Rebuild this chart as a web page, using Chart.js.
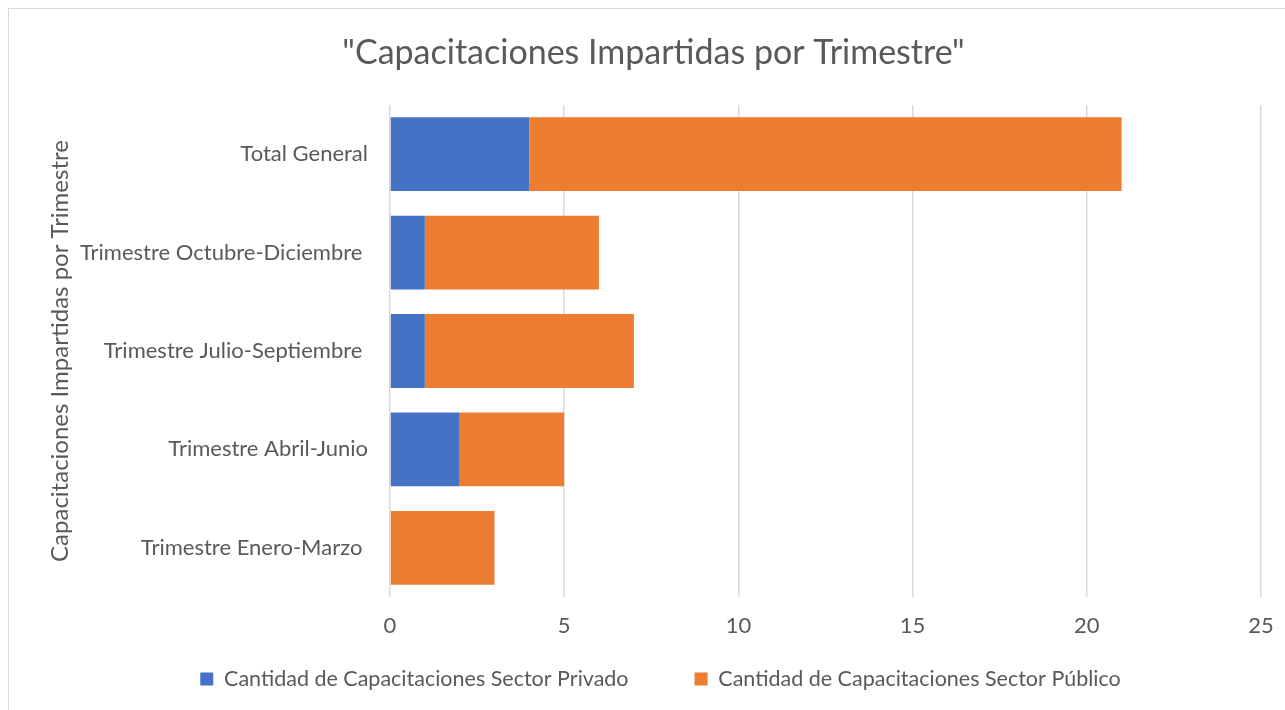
<!DOCTYPE html>
<html>
<head>
<meta charset="utf-8">
<script src="https://cdn.jsdelivr.net/npm/chart.js@4/dist/chart.umd.min.js"></script>
<style>
  html, body { margin: 0; padding: 0; background: #fff; overflow: hidden; }
  .frame {
    position: absolute; left: 8px; top: 8px;
    width: 1300px; height: 720px;
    border: 1px solid #d9d9d9;
  }
  canvas { position: absolute; left: 0; top: 0; }
</style>
</head>
<body>
<div class="frame"></div>
<canvas id="chart" width="1285" height="710"></canvas>
<script>
const categories = [
  "Total General",
  "Trimestre Octubre-Diciembre ",
  "Trimestre Julio-Septiembre ",
  "Trimestre Abril-Junio",
  "Trimestre Enero-Marzo ",
];
const privado = [4, 1, 1, 2, 0];
const publico = [17, 5, 6, 3, 3];
const seriesNames = [
  "Cantidad de Capacitaciones Sector Privado",
  "Cantidad de Capacitaciones Sector Público",
];
const xTicks = [0, 5, 10, 15, 20, 25];

const textColor = "#595959";
const gridColor = "#d9d9d9";
const fontFamily = "Lato, 'Open Sans', sans-serif";
const legendFontSize = 21.5;
const legendGap = 66;
const legendTextY = 679;
const legendShiftX = 7;

// the legend's item gap and its top offset share one padding value,
// so pull the legend box up after layout to keep the wide gap
const liftLegend = {
  id: "liftLegend",
  afterLayout(chart) {
    const lg = chart.legend;
    if (!lg) return;
    const top = legendTextY - legendGap - legendFontSize / 2;
    const dy = lg.top - top;
    lg.top -= dy;
    lg.bottom -= dy;
    lg.left += legendShiftX;
    lg.right += legendShiftX;
  },
};

new Chart(document.getElementById("chart"), {
  type: "bar",
  data: {
    labels: categories,
    datasets: [
      { label: seriesNames[0], data: privado, backgroundColor: "#4472C4" },
      { label: seriesNames[1], data: publico, backgroundColor: "#ED7D31" },
    ],
  },
  options: {
    indexAxis: "y",
    responsive: false,
    animation: false,
    layout: { padding: { left: 46, right: 24, top: 0, bottom: -28.5 } },
    datasets: { bar: { barPercentage: 0.75, categoryPercentage: 1 } },
    plugins: {
      tooltip: { enabled: false },
      title: {
        display: true,
        text: "\"Capacitaciones Impartidas por Trimestre\"",
        color: textColor,
        font: { family: fontFamily, size: 34, weight: "normal" },
        padding: { top: 33, bottom: 31.2 },
      },
      legend: {
        position: "bottom",
        labels: {
          color: textColor,
          font: { family: fontFamily, size: legendFontSize },
          boxWidth: 13,
          boxHeight: 13,
          padding: legendGap,
        },
      },
    },
    scales: {
      x: {
        stacked: true,
        min: 0,
        max: 25,
        afterBuildTicks: (scale) => {
          scale.ticks = xTicks.map((v) => ({ value: v }));
        },
        afterFit: (scale) => {
          scale.height = 44;
          scale.paddingLeft = 0;
          scale.paddingRight = 0;
        },
        grid: { color: gridColor, lineWidth: 1.5, drawTicks: false },
        border: { display: false },
        ticks: {
          color: textColor,
          font: { family: fontFamily, size: 22 },
          padding: 16,
        },
      },
      y: {
        stacked: true,
        afterFit: (scale) => { scale.width = 344; },
        grid: { display: false, drawTicks: false },
        border: { display: false },
        ticks: {
          color: textColor,
          font: { family: fontFamily, size: 22 },
          padding: 22,
        },
        title: {
          display: true,
          text: "Capacitaciones Impartidas por Trimestre",
          color: textColor,
          font: { family: fontFamily, size: 24 },
          padding: 0,
        },
      },
    },
  },
  plugins: [liftLegend],
});
</script>
</body>
</html>
